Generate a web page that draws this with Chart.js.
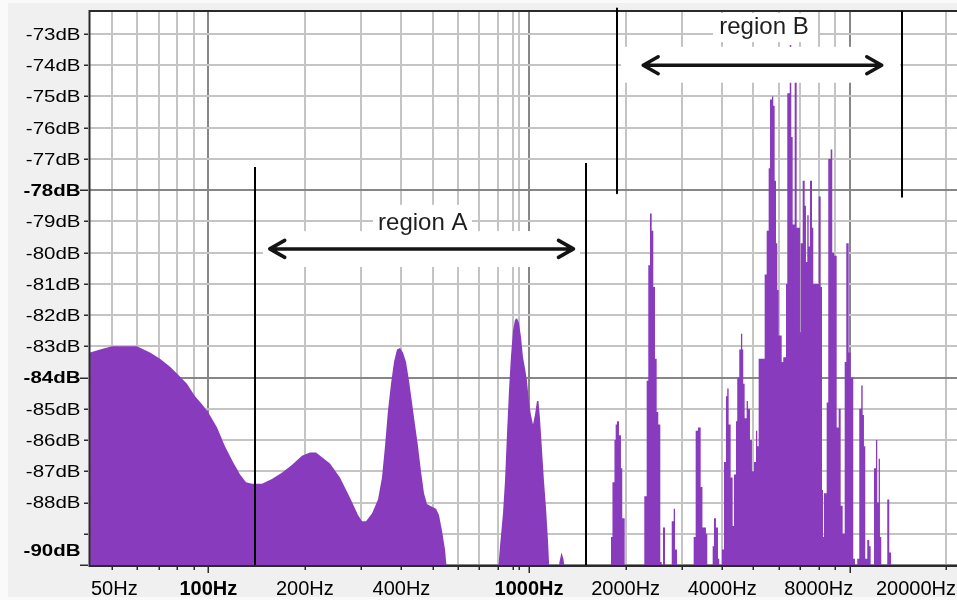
<!DOCTYPE html>
<html>
<head>
<meta charset="utf-8">
<script src="https://cdn.jsdelivr.net/npm/chart.js@4.4.1/dist/chart.umd.min.js"></script>
<style>
  html, body { margin: 0; padding: 0; background: #f0f0f0; }
  canvas { display: block; }
</style>
</head>
<body>
<canvas id="spectrum" width="957" height="600"></canvas>
<script>
// Frequency analysis: level (dB) against frequency (Hz), log frequency axis.

// Low band: broad hump near 55 Hz, a smaller one near 210 Hz, a peak just under 400 Hz
const lowBandHz = [42.8, 46.0, 50.1, 53.0, 59.9, 65.8, 70.7, 76.0, 80.4, 85.8, 90.9, 95.6, 99.8,
  106.5, 112.7, 119.4, 125.6, 131.1, 136.9, 147.0, 157.9, 169.6, 182.2, 195.9, 207.5, 216.7,
  226.2, 239.5, 257.3, 276.5, 292.9, 301.4, 310.2, 323.8, 338.1, 347.9, 355.5, 363.2, 371.2,
  379.2, 387.5, 395.9, 404.5, 413.4, 422.4, 431.5, 440.9, 450.5, 460.3, 470.4, 480.6, 491.1,
  512.7, 523.8, 535.3, 546.9, 554.8];
const lowBandDb = [-83.2, -83.1, -83.0, -83.0, -83.0, -83.2, -83.4, -83.65, -83.9, -84.2, -84.6, -84.85, -85.1,
  -85.6, -86.2, -86.7, -87.1, -87.35, -87.4, -87.4, -87.25, -87.05, -86.8, -86.5, -86.4, -86.4,
  -86.55, -86.75, -87.2, -87.85, -88.4, -88.6, -88.6, -88.35, -87.9, -87.2, -86.2, -85.05, -84.2,
  -83.5, -83.1, -83.05, -83.2, -83.5, -84.1, -84.8, -85.5, -86.2, -87.0, -87.7, -88.05, -88.1,
  -88.2, -88.4, -88.9, -89.5, -90.2];

// Peak around 1 kHz
const kHzPeakHz = [800.0, 811.6, 829.2, 841.3, 853.4, 865.8, 878.3, 891.0, 903.9, 916.9, 930.2, 943.7,
  957.3, 971.1, 985.0, 999.3, 1013.7, 1028.4, 1043.2, 1058.3, 1069.7, 1081.3, 1097.0, 1112.8,
  1128.9, 1145.2, 1157.6];
const kHzPeakDb = [-90.2, -89.4, -88.35, -87.3, -85.8, -84.4, -83.3, -82.5, -82.15, -82.1, -82.25, -82.7,
  -83.35, -83.7, -84.1, -84.8, -85.2, -85.5, -85.2, -84.75, -84.75, -85.3, -86.3, -87.3,
  -88.15, -89.2, -90.2];

// Small bump near 1.26 kHz
const bumpHz = [1234.7, 1243.6, 1261.8, 1280.0, 1293.9];
const bumpDb = [-90.2, -89.9, -89.6, -89.8, -90.2];

// Narrow components from 1.8 kHz to 13.5 kHz: each bin starts at spikesHz[i] and holds
// spikesDb[i] up to the next bin; -90 means at or below the floor of the plot
const spikesHz = [1800, 1819.5, 1845.8, 1861.8, 1879.2, 1906.5, 1934, 1952.2, 1986.1,
  2286.5, 2326, 2353, 2382, 2411, 2439, 2469, 2499, 2528, 2565, 2591, 2615, 2653,
  2784, 2824, 2850, 2891, 3259, 3306, 3361, 3427, 3471, 3559, 3593,
  3735, 3770, 3824, 3880, 3916, 3993, 4050, 4109, 4147, 4189, 4250, 4311, 4352, 4415, 4456,
  4521, 4576, 4619, 4652, 4699, 4767, 4812, 4882, 4952, 5024, 5097, 5144, 5196,
  5425, 5504, 5583, 5636, 5717, 5771, 5829, 5884, 5939, 5999, 6130, 6200, 6322,
  6381, 6473, 6506, 6567, 6633, 6729, 6826, 6990, 7025, 7127, 7230, 7297, 7366, 7440,
  7510, 7619, 7690, 7994, 8110, 8186, 8245, 8304, 8467, 8564, 8713, 8814, 8941,
  9097, 9228, 9362, 9497, 9635, 9746, 9914, 10058, 10247, 10373, 10546, 10698, 10853,
  10962, 11065, 11169, 11331, 11494, 11610, 11889, 12060, 12173, 12296, 12412, 12528,
  13079, 13268, 13459];
const spikesDb = [-89.1, -87.35, -86.0, -85.5, -85.4, -85.85, -86.9, -88.5, -90,
  -87.8, -84.1, -80.4, -78.75, -79.3, -81.1, -83.4, -85.1, -85.5, -89.9, -90, -88.8, -90,
  -88.6, -88.2, -89.5, -90, -89.1, -85.7, -85.6, -87.5, -88.8, -89.0, -90,
  -89.4, -88.5, -88.8, -89.8, -90, -89.5, -86.7, -84.6, -84.35, -85.5, -87.2, -88.75, -87.1, -85.4, -84.0,
  -83.1, -82.6, -83.1, -84.2, -85.3, -84.75, -85.0, -86.0, -87.0, -86.7, -85.7, -86.2, -83.4,
  -80.7, -79.3, -77.3, -75.1, -75.0, -75.3, -77.7, -79.7, -81.2, -82.65, -83.5, -83.35, -81.0,
  -74.9, -74.5, -73.35, -76.3, -79.1, -74.5, -79.2, -82.55, -79.7, -77.7, -78.5, -80.3, -78.8, -79.8,
  -77.7, -79.2, -81.0, -78.2, -81.1, -87.6, -89.1, -87.7, -84.8, -77.0, -76.7, -80.0, -80.1,
  -85.6, -85.0, -88.1, -89.0, -83.5, -79.7, -83.2, -84.0, -89.8, -90, -89.8, -85.0, -84.25,
  -85.2, -86.2, -89.8, -89.2, -89.4, -90, -86.9, -86.0, -88.0, -86.6, -89.1, -90,
  -87.9, -89.6, -90];

// Axis ticks and labels
const gridHz = [50, 60, 70, 80, 90, 100, 200, 300, 400, 500, 600, 700, 800, 893, 927, 1000,
  2000, 3000, 4000, 5000, 6000, 7000, 8000, 9000, 10000, 20000];
const majorHz = [100, 1000, 10000];
const xLabelHz = [50, 100, 200, 400, 1000, 2000, 4000, 8000, 20000];
const xLabels = ['50Hz', '100Hz', '200Hz', '400Hz', '1000Hz', '2000Hz', '4000Hz', '8000Hz', '20000Hz'];
const boldXLabels = ['100Hz', '1000Hz'];
const dbTicks = [-73, -74, -75, -76, -77, -78, -79, -80, -81, -82, -83, -84, -85, -86, -87, -88, -89, -90];
const dbLabels = ['-73dB', '-74dB', '-75dB', '-76dB', '-77dB', '-78dB', '-79dB', '-80dB', '-81dB',
  '-82dB', '-83dB', '-84dB', '-85dB', '-86dB', '-87dB', '-88dB', '', '-90dB'];
const majorDb = [-78, -84, -90];

// Marked frequency regions
const regionNames = ['region A', 'region B'];
const regionStartHz = [139.8, 1875];
const regionEndHz = [1504, 14537];

// Drawing setup for the region markers (edge lines, arrows, captions, clear panels behind them)
const regionStyle = [
  { edgeTopDb: [-77.26, -77.13], edgeBottomDb: [-90, -90],
    arrowHz: [153.8, 1390], arrowDb: -79.88, captionHz: 466.3, captionDb: -79.27,
    panels: [[326.2, 663.8, -78.47, -79.53], [148.1, 1441, -79.31, -80.46]] },
  { edgeTopDb: [-72.18, -72.29], edgeBottomDb: [-78.10, -78.21],
    arrowHz: [2244, 12709], arrowDb: -74.0, captionHz: 5398, captionDb: -73.01,
    panels: [[3743, 7954, -72.33, -73.26], [1934, 14330, -73.41, -74.56]] }
];

const PURPLE = '#893bbd';
const GRID_LIGHT = '#c4c4c4';
const GRID_DARK = '#878787';
const AXIS = '#2a2a2a';
const FONT = '"Liberation Sans", Arial, Helvetica, sans-serif';

function fillStyle(points) {
  return {
    data: points,
    fill: 'start',
    backgroundColor: PURPLE,
    borderColor: 'rgba(0,0,0,0)',
    borderWidth: 0,
    pointRadius: 0,
    tension: 0
  };
}

// smooth curve through the readings
function curve(xs, ys) {
  return fillStyle(xs.map((x, i) => ({ x: x, y: ys[i] })));
}

// flat-topped bins: each level is held from its own frequency to the next one
function bins(xs, ys) {
  const pts = [];
  for (let i = 0; i < xs.length; i++) {
    pts.push({ x: xs[i], y: ys[i] });
    if (i + 1 < xs.length) pts.push({ x: xs[i + 1], y: ys[i] });
  }
  return fillStyle(pts);
}

const decorations = {
  id: 'decorations',
  beforeDraw(chart) {
    const { ctx, chartArea: a } = chart;
    ctx.save();
    ctx.fillStyle = '#f0f0f0';
    ctx.fillRect(0, 0, chart.width, chart.height);
    ctx.fillStyle = '#fafafa';
    ctx.fillRect(0, 0, 8, chart.height);
    ctx.fillRect(0, 0, chart.width, 3);
    ctx.fillRect(0, 597, chart.width, 3);
    ctx.fillStyle = '#ffffff';
    ctx.fillRect(a.left, a.top, a.right - a.left, a.bottom - a.top);
    ctx.restore();
  },
  afterDraw(chart) {
    const { ctx, chartArea: a } = chart;
    const xs = chart.scales.x, ys = chart.scales.y;
    ctx.save();

    // frame: top edge, left axis, bottom axis
    ctx.strokeStyle = AXIS;
    ctx.lineWidth = 2;
    ctx.beginPath();
    ctx.moveTo(a.left - 1, a.top);
    ctx.lineTo(a.right, a.top);
    ctx.moveTo(a.left - 0.5, a.top - 1);
    ctx.lineTo(a.left - 0.5, a.bottom + 2);
    ctx.moveTo(a.left - 1.5, a.bottom + 1);
    ctx.lineTo(a.right, a.bottom + 1);
    ctx.stroke();

    // tick marks
    ctx.lineWidth = 1.5;
    ctx.beginPath();
    dbTicks.forEach(v => {
      const py = Math.round(ys.getPixelForValue(v)) + 0.25;
      const major = majorDb.includes(v);
      ctx.moveTo(major ? a.left - 10 : a.left - 6, py);
      ctx.lineTo(a.left - 2, py);
    });
    gridHz.forEach(v => {
      const px = Math.round(xs.getPixelForValue(v)) + 0.25;
      const major = majorHz.includes(v);
      ctx.moveTo(px, a.bottom + 2);
      ctx.lineTo(px, a.bottom + (major ? 8 : 5));
    });
    ctx.stroke();

    // level labels (narrow ruler face, widened horizontally)
    ctx.fillStyle = '#000';
    ctx.textAlign = 'right';
    ctx.textBaseline = 'middle';
    dbTicks.forEach((v, i) => {
      const label = dbLabels[i];
      if (!label) return;
      let py = ys.getPixelForValue(v) + 1.5;
      py = Math.min(py, a.bottom - 13);
      ctx.save();
      ctx.translate(a.left - 9.5, py);
      ctx.scale(1.28, 1);
      ctx.font = (majorDb.includes(v) ? 'bold ' : '') + '16px ' + FONT;
      ctx.fillText(label, 0, 0);
      ctx.restore();
    });

    // frequency labels, kept inside the ruler
    ctx.textAlign = 'left';
    ctx.textBaseline = 'alphabetic';
    xLabelHz.forEach((v, i) => {
      const label = xLabels[i];
      ctx.font = (boldXLabels.includes(label) ? 'bold ' : '') + '20px ' + FONT;
      const w = ctx.measureText(label).width;
      let left = xs.getPixelForValue(v) - w / 2;
      left = Math.max(left, a.left + 1);
      left = Math.min(left, chart.width - 1 - w);
      ctx.fillText(label, left, 594.5);
    });

    // region markers
    regionNames.forEach((name, r) => {
      const st = regionStyle[r];
      // clear panels behind caption and arrow
      ctx.fillStyle = '#ffffff';
      st.panels.forEach(p => {
        const x1 = xs.getPixelForValue(p[0]), x2 = xs.getPixelForValue(p[1]);
        const y1 = ys.getPixelForValue(p[2]), y2 = ys.getPixelForValue(p[3]);
        ctx.fillRect(x1, y1, x2 - x1, y2 - y1);
      });
      // edge lines
      ctx.strokeStyle = '#000';
      ctx.lineWidth = 2;
      ctx.beginPath();
      [regionStartHz[r], regionEndHz[r]].forEach((hz, k) => {
        const px = Math.round(xs.getPixelForValue(hz));
        ctx.moveTo(px, ys.getPixelForValue(st.edgeTopDb[k]));
        ctx.lineTo(px, ys.getPixelForValue(st.edgeBottomDb[k]));
      });
      ctx.stroke();
      // double-headed arrow
      const ax1 = xs.getPixelForValue(st.arrowHz[0]) + 1.5;
      const ax2 = xs.getPixelForValue(st.arrowHz[1]) - 1.5;
      const ay = ys.getPixelForValue(st.arrowDb);
      ctx.strokeStyle = '#141414';
      ctx.lineWidth = 3.5;
      ctx.lineJoin = 'round';
      ctx.lineCap = 'round';
      ctx.beginPath();
      ctx.moveTo(ax1, ay);
      ctx.lineTo(ax2, ay);
      ctx.moveTo(ax1 + 15, ay - 8.5);
      ctx.lineTo(ax1, ay);
      ctx.lineTo(ax1 + 15, ay + 8.5);
      ctx.moveTo(ax2 - 15, ay - 8.5);
      ctx.lineTo(ax2, ay);
      ctx.lineTo(ax2 - 15, ay + 8.5);
      ctx.stroke();
      // caption
      ctx.fillStyle = '#1e1e1e';
      ctx.font = '24px ' + FONT;
      ctx.textAlign = 'center';
      ctx.textBaseline = 'alphabetic';
      ctx.fillText(name, xs.getPixelForValue(st.captionHz), ys.getPixelForValue(st.captionDb));
    });

    ctx.restore();
  }
};

new Chart(document.getElementById('spectrum'), {
  type: 'line',
  data: {
    datasets: [
      curve(lowBandHz, lowBandDb),
      curve(kHzPeakHz, kHzPeakDb),
      curve(bumpHz, bumpDb),
      bins(spikesHz, spikesDb)
    ]
  },
  options: {
    responsive: false,
    animation: false,
    devicePixelRatio: 1,
    events: [],
    layout: { padding: { top: 11, right: 0, bottom: 0, left: 0 } },
    plugins: { legend: { display: false }, tooltip: { enabled: false } },
    scales: {
      x: {
        type: 'logarithmic',
        position: 'bottom',
        min: 42.78,
        max: 21577,
        z: 1,
        afterBuildTicks: s => { s.ticks = gridHz.map(v => ({ value: v })); },
        afterFit: s => { s.height = 35; },
        grid: {
          drawTicks: false,
          lineWidth: 2,
          color: c => (majorHz.includes(c.tick && c.tick.value) ? GRID_DARK : GRID_LIGHT)
        },
        border: { display: false },
        ticks: { display: false }
      },
      y: {
        type: 'linear',
        min: -90,
        max: -72.264,
        z: 1,
        afterBuildTicks: s => { s.ticks = dbTicks.map(v => ({ value: v })); },
        afterFit: s => { s.width = 90; },
        grid: {
          drawTicks: false,
          lineWidth: 2,
          color: c => (majorDb.includes(c.tick && c.tick.value) ? GRID_DARK : GRID_LIGHT)
        },
        border: { display: false },
        ticks: { display: false }
      }
    }
  },
  plugins: [decorations]
});
</script>
</body>
</html>
